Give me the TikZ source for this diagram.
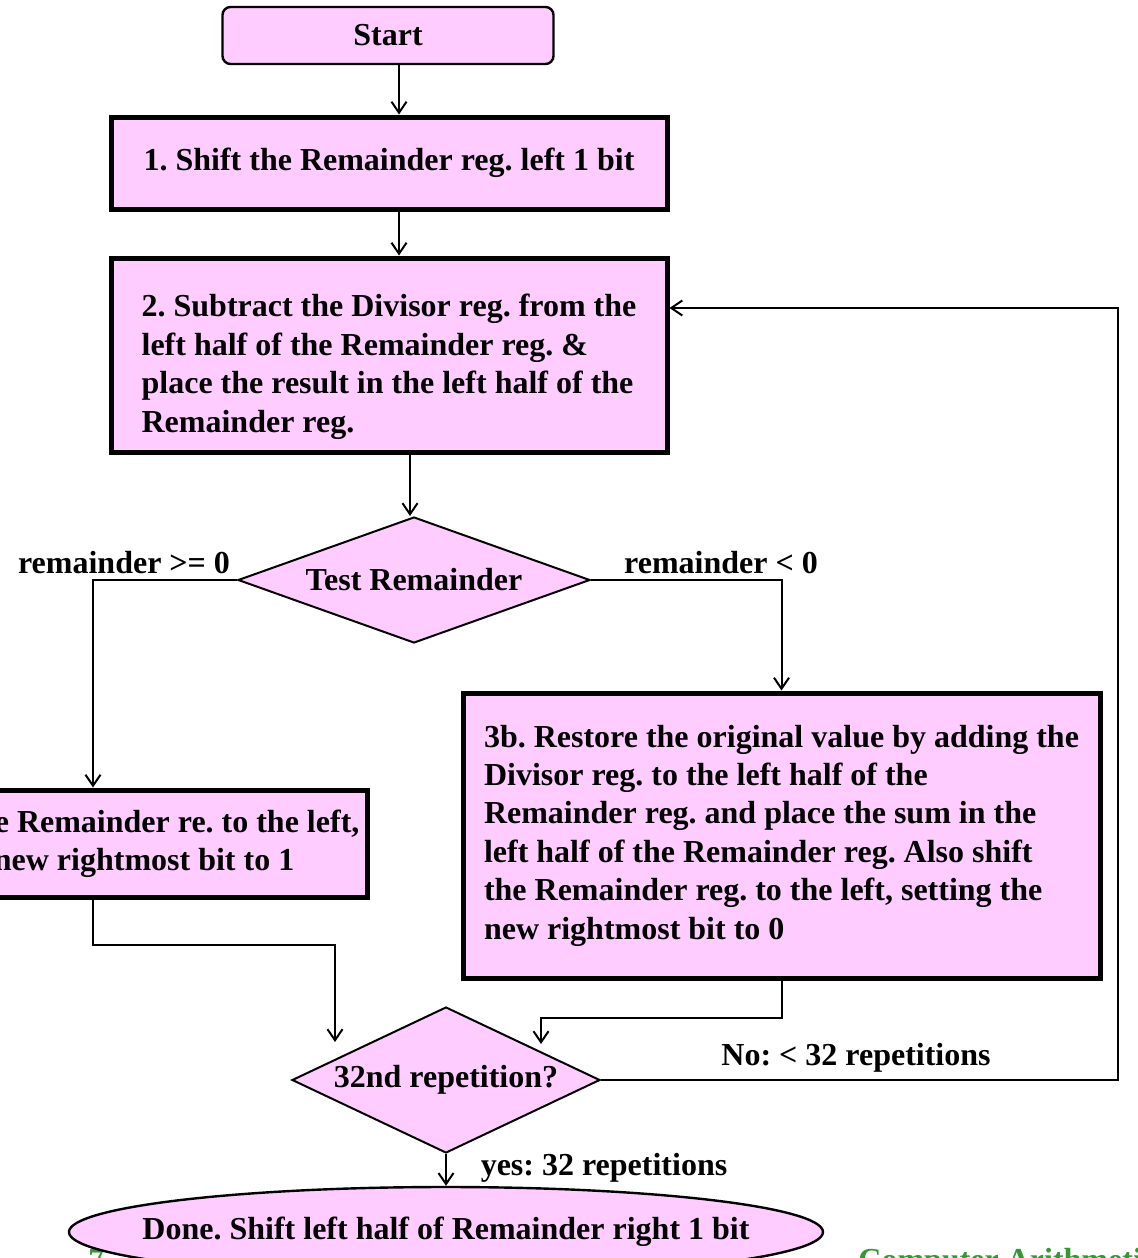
\documentclass[tikz,border=0pt]{standalone}
\usepackage{fontspec}
\setmainfont{Liberation Serif}
\usetikzlibrary{arrows.meta,shapes.geometric}

\definecolor{flowpink}{HTML}{FFCCFF}
\definecolor{slidegreen}{HTML}{339933}

\frenchspacing

\begin{document}
\begin{tikzpicture}[x=0.5pt, y=-0.5pt, >={Straight Barb[length=5.5pt,width=7.5pt]},
  font=\fontsize{16}{19.2}\selectfont\bfseries,
  flow/.style={->, line width=1pt},
  stepbox/.style={draw, line width=2.5pt, fill=flowpink, align=left, inner sep=0pt},
  test/.style={diamond, draw, line width=1pt, fill=flowpink, inner sep=0pt},
  lbl/.style={inner sep=0pt}]

% ----------------------------
% FRAME
% ----------------------------
\useasboundingbox (0,0) rectangle (1138,1258);
\clip (0,0) rectangle (1138,1258);

% ----------------------------
% FOOTER (under the last node)
% ----------------------------
\node[lbl, anchor=base west, text=slidegreen] (num) at (88,1270) {7-};
\node[lbl, anchor=base west, text=slidegreen] (title) at (858,1270) {Computer Arithmetic};

% ----------------------------
% STEPS
% ----------------------------
\node[draw, line width=1.2pt, fill=flowpink, rounded corners=4pt,
  minimum width=165.5pt, minimum height=28.5pt] (start) at (388,35.5) {Start};

\node[stepbox, minimum width=278pt, minimum height=46pt] (s1) at (389,163)
  {1. Shift the Remainder reg. left 1 bit};

\node[stepbox, minimum width=278pt, minimum height=97pt] (s2) at (389,355)
  {\rule{0pt}{23pt}2. Subtract the Divisor reg. from the\\
   left half of the Remainder reg. \&\\
   place the result in the left half of the\\
   Remainder reg.};

\node[test, aspect=2.79, minimum width=176pt, minimum height=63pt] (t1) at (414,580) {Test Remainder};

\node[stepbox, minimum width=274pt, minimum height=53.5pt] (s3a) at (93,843.5)
  {\hspace*{9pt}3a. Shift the Remainder re. to the left,\\
   \hspace*{9pt}setting the new rightmost bit to 1};

\node[stepbox, minimum width=318.5pt, minimum height=142.5pt] (s3b) at (781.5,835.5)
  {3b. Restore the original value by adding the\\
   Divisor reg. to the left half of the\\
   Remainder reg. and place the sum in the\\
   left half of the Remainder reg. Also shift\\
   the Remainder reg. to the left, setting the\\
   new rightmost bit to 0};

\node[test, aspect=2.11, minimum width=154pt, minimum height=73pt] (t2) at (446,1080) {32nd repetition?};

\node[ellipse, draw, line width=1.2pt, fill=flowpink, inner xsep=-20pt, inner ysep=0pt,
  minimum width=377pt, minimum height=45pt] (done) at (446,1232)
  {Done. Shift left half of Remainder right 1 bit};

% ----------------------------
% CONNECTORS
% ----------------------------
\coordinate (c1) at (399,0);
\coordinate (c2) at (410,0);
\coordinate (k1) at (335,945);
\coordinate (m1) at (335,1042);
\coordinate (k2) at (541,1018);
\coordinate (m2) at (541,1044);
\coordinate (k3) at (1118,308);

\draw[flow] (start.south -| c1) -- (s1.north -| c1);
\draw[flow] (s1.south -| c1) -- (s2.north -| c1);
\draw[flow] (s2.south -| c2) -- (t1.north -| c2);

\draw[flow] (t1.west) -| (s3a.north);
\draw[flow] (t1.east) -| (s3b.north);

\draw[flow] (s3a.south) |- (k1) -- (m1);
\draw[flow] (s3b.south) |- (k2) -- (m2);

% loop back
\draw[flow] (t2.east) -| (k3) -- (k3 -| s2.east);

\draw[flow] (t2.south) -- (done.north);

% ----------------------------
% BRANCH LABELS
% ----------------------------
\node[lbl] (geq) at (124,563) {remainder >= 0};
\node[lbl] (lt) at (721,563) {remainder < 0};
\node[lbl] (no) at (856,1058) {No: < 32 repetitions};
\node[lbl] (yes) at (604,1168) {yes: 32 repetitions};

\end{tikzpicture}
\end{document}
